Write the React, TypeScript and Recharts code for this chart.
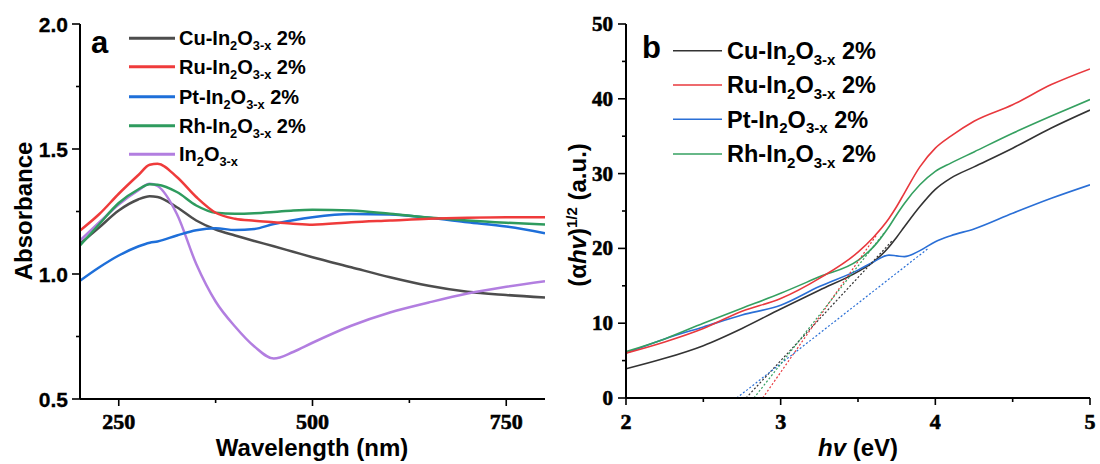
import React from 'react';
import { LineChart, Line, XAxis, YAxis } from 'recharts';

// ---------- Panel a: UV-vis absorbance ----------
const WAVELENGTH = [200, 225, 250, 275, 290, 300, 325, 350, 375, 400, 425, 450, 475, 500, 550, 600, 650, 700, 750, 800];
const CU_ABS = [1.12, 1.187, 1.254, 1.298, 1.311, 1.308, 1.267, 1.214, 1.178, 1.154, 1.132, 1.111, 1.089, 1.067, 1.027, 0.987, 0.953, 0.929, 0.916, 0.906];
const RU_ABS = [1.174, 1.24, 1.321, 1.395, 1.437, 1.441, 1.388, 1.308, 1.245, 1.221, 1.213, 1.207, 1.201, 1.197, 1.207, 1.214, 1.221, 1.225, 1.227, 1.227];
const PT_ABS = [0.973, 1.027, 1.074, 1.11, 1.125, 1.13, 1.154, 1.175, 1.183, 1.176, 1.18, 1.2, 1.215, 1.227, 1.24, 1.238, 1.225, 1.207, 1.19, 1.163];
const RH_ABS = [1.114, 1.2, 1.284, 1.338, 1.359, 1.357, 1.328, 1.274, 1.245, 1.241, 1.243, 1.248, 1.254, 1.257, 1.254, 1.241, 1.226, 1.214, 1.205, 1.198];
const IN_ABS = [1.134, 1.207, 1.278, 1.334, 1.361, 1.352, 1.24, 1.04, 0.89, 0.79, 0.71, 0.662, 0.688, 0.725, 0.793, 0.846, 0.886, 0.922, 0.949, 0.971];

const A_X_TICKS = [250, 375, 500, 625, 750];
const A_X_MAJOR = [250, 500, 750];
const A_Y_TICKS = [0.5, 0.75, 1.0, 1.25, 1.5, 1.75, 2.0];
const A_Y_MAJOR = [0.5, 1.0, 1.5, 2.0];

// ---------- Panel b: Tauc plot ----------
const ENERGY = [2.0, 2.25, 2.5, 2.75, 3.0, 3.25, 3.5, 3.6, 3.7, 3.75, 3.8, 3.9, 4.0, 4.1, 4.25, 4.5, 4.75, 5.0];
const CU_TAUC = [3.9, 5.3, 7.0, 9.3, 11.9, 14.4, 16.9, 18.2, 20.2, 21.5, 22.9, 25.6, 27.9, 29.4, 30.9, 33.4, 36.1, 38.5];
const RU_TAUC = [6.0, 7.5, 9.3, 11.6, 13.3, 16.0, 19.5, 21.5, 24.0, 25.6, 27.4, 30.9, 33.4, 35.0, 37.0, 39.2, 41.9, 44.0];
const PT_TAUC = [6.0, 7.9, 9.5, 11.1, 12.4, 14.9, 17.1, 18.2, 19.1, 19.0, 18.9, 19.7, 20.9, 21.7, 22.6, 24.7, 26.7, 28.5];
const RH_TAUC = [6.2, 7.9, 10.0, 12.0, 14.0, 16.2, 18.4, 20.2, 22.9, 24.5, 26.0, 28.5, 30.3, 31.4, 32.9, 35.4, 37.7, 39.9];

// tangent (band-gap extrapolation) lines: [start, end]
const CU_FIT_E = [2.776, 3.72];
const CU_FIT_V = [0, 21.0];
const RU_FIT_E = [2.884, 3.62];
const RU_FIT_V = [0, 21.8];
const PT_FIT_E = [2.716, 3.954];
const PT_FIT_V = [0, 20.0];
const RH_FIT_E = [2.827, 3.674];
const RH_FIT_V = [0, 22.2];

const B_X_TICKS = [2, 2.5, 3, 3.5, 4, 4.5, 5];
const B_X_MAJOR = [2, 3, 4, 5];
const B_Y_TICKS = [0, 5, 10, 15, 20, 25, 30, 35, 40, 45, 50];
const B_Y_MAJOR = [0, 10, 20, 30, 40, 50];

const dataA = WAVELENGTH.map((wl, i) => ({
  wl,
  cu: CU_ABS[i],
  ru: RU_ABS[i],
  pt: PT_ABS[i],
  rh: RH_ABS[i],
  inx: IN_ABS[i],
}));

const dataB = ENERGY.map((ev, i) => ({
  ev,
  cu: CU_TAUC[i],
  ru: RU_TAUC[i],
  pt: PT_TAUC[i],
  rh: RH_TAUC[i],
}));

const fit = (e: number[], v: number[]) => e.map((ev, i) => ({ ev, v: v[i] }));

const SANS = 'Liberation Sans';
const SERIF = 'Liberation Serif';

const COLORS_A = { cu: '#4d4d4d', ru: '#ef3b3b', pt: '#1e6fd9', rh: '#2e9b5e', inx: '#b27ee0' };
const COLORS_B = { cu: '#333333', ru: '#e8383d', pt: '#2a6fd6', rh: '#35a060' };

const makeXTick = (major: number[], font: string, size: number, off: number, heavy: number) => (props: any) => {
  const { x, y, payload, index } = props;
  const isMajor = major.includes(payload.value);
  return (
    <g key={`xt-${index}-${payload.value}`} style={{ fontFamily: font, fontWeight: 700 }}>
      <line x1={x} x2={x} y1={y} y2={y + (isMajor ? 7 : 4)} stroke="#000" strokeWidth={1.6} />
      {isMajor ? (
        <text x={x} y={y + off} textAnchor="middle" fill="#000" stroke="#000" strokeWidth={heavy} fontSize={size}>
          {String(payload.value)}
        </text>
      ) : null}
    </g>
  );
};

const makeYTick = (major: number[], font: string, size: number, gap: number, fmt: (v: number) => string, dy: number, heavy: number) => (props: any) => {
  const { x, y, payload, index } = props;
  const isMajor = major.includes(payload.value);
  return (
    <g key={`yt-${index}-${payload.value}`} style={{ fontFamily: font, fontWeight: 700 }}>
      <line x1={x - (isMajor ? 8 : 4)} x2={x} y1={y} y2={y} stroke="#000" strokeWidth={1.6} />
      {isMajor ? (
        <text x={x - gap} y={y + dy} textAnchor="end" fill="#000" stroke="#000" strokeWidth={heavy} fontSize={size}>
          {fmt(payload.value)}
        </text>
      ) : null}
    </g>
  );
};

const renderAXTick = makeXTick(A_X_MAJOR, SERIF, 22, 30, 0.6);
const renderAYTick = makeYTick(A_Y_MAJOR, SANS, 21, 12, (v) => v.toFixed(1), 8, 0.3);
const renderBXTick = makeXTick(B_X_MAJOR, SERIF, 22, 31, 0.6);
const renderBYTick = makeYTick(B_Y_MAJOR, SERIF, 21, 13, (v) => String(v), 7, 0.6);

const Formula = ({ metal, pct, fs }: { metal?: string; pct: boolean; fs: number }) => {
  const s = fs * 0.64;
  const d = fs * 0.25;
  return (
    <>
      {metal ? `${metal}-In` : 'In'}
      <tspan dy={d} fontSize={s}>2</tspan>
      <tspan dy={-d}>O</tspan>
      <tspan dy={d} fontSize={s}>3-x</tspan>
      {pct ? <tspan dy={-d}>{' 2%'}</tspan> : null}
    </>
  );
};

const LEGEND_A = [
  { metal: 'Cu', pct: true, color: COLORS_A.cu },
  { metal: 'Ru', pct: true, color: COLORS_A.ru },
  { metal: 'Pt', pct: true, color: COLORS_A.pt },
  { metal: 'Rh', pct: true, color: COLORS_A.rh },
  { metal: '', pct: false, color: COLORS_A.inx },
];
const LEGEND_A_Y = [38.3, 66.7, 96.7, 125.7, 154.3];

const LEGEND_B = [
  { metal: 'Cu', color: COLORS_B.cu },
  { metal: 'Ru', color: COLORS_B.ru },
  { metal: 'Pt', color: COLORS_B.pt },
  { metal: 'Rh', color: COLORS_B.rh },
];
const LEGEND_B_Y = [50.7, 85, 119.3, 154];

export default function App() {
  return (
    <div style={{ position: 'absolute', left: 0, top: 0, width: 1100, height: 464, background: '#fff', overflow: 'hidden' }}>
      {/* Panel a */}
      <div style={{ position: 'absolute', left: 0, top: 0 }}>
        <LineChart width={560} height={464} data={dataA} margin={{ top: 24, right: 15, bottom: 25, left: 0 }}>
          <XAxis
            dataKey="wl"
            type="number"
            domain={[200, 800]}
            ticks={A_X_TICKS}
            interval={0}
            height={40}
            tickSize={0}
            tickMargin={0}
            tickLine={false}
            tick={renderAXTick}
            axisLine={{ stroke: '#000', strokeWidth: 2 }}
            allowDataOverflow
          />
          <XAxis xAxisId="top" orientation="top" type="number" domain={[200, 800]} height={0} tick={false} tickLine={false} axisLine={{ stroke: '#000', strokeWidth: 2 }} />
          <YAxis
            type="number"
            domain={[0.5, 2]}
            ticks={A_Y_TICKS}
            interval={0}
            width={80}
            tickSize={0}
            tickMargin={0}
            tickLine={false}
            tick={renderAYTick}
            axisLine={{ stroke: '#000', strokeWidth: 2 }}
            allowDataOverflow
          />
          <YAxis yAxisId="right" orientation="right" type="number" domain={[0.5, 2]} width={0} tick={false} tickLine={false} axisLine={{ stroke: '#000', strokeWidth: 2 }} />
          <Line type="monotone" dataKey="cu" stroke={COLORS_A.cu} strokeWidth={2.5} dot={false} isAnimationActive={false} />
          <Line type="monotone" dataKey="inx" stroke={COLORS_A.inx} strokeWidth={2.5} dot={false} isAnimationActive={false} />
          <Line type="monotone" dataKey="pt" stroke={COLORS_A.pt} strokeWidth={2.5} dot={false} isAnimationActive={false} />
          <Line type="monotone" dataKey="rh" stroke={COLORS_A.rh} strokeWidth={2.5} dot={false} isAnimationActive={false} />
          <Line type="monotone" dataKey="ru" stroke={COLORS_A.ru} strokeWidth={2.5} dot={false} isAnimationActive={false} />
        </LineChart>
      </div>

      {/* Panel b */}
      <div style={{ position: 'absolute', left: 560, top: 0 }}>
        <LineChart width={540} height={464} data={dataB} margin={{ top: 24, right: 10, bottom: 26, left: 0 }}>
          <XAxis
            dataKey="ev"
            type="number"
            domain={[2, 5]}
            ticks={B_X_TICKS}
            interval={0}
            height={40}
            tickSize={0}
            tickMargin={0}
            tickLine={false}
            tick={renderBXTick}
            axisLine={{ stroke: '#000', strokeWidth: 2 }}
            allowDataOverflow
          />
          <XAxis xAxisId="top" orientation="top" type="number" domain={[2, 5]} height={0} tick={false} tickLine={false} axisLine={{ stroke: '#000', strokeWidth: 2 }} />
          <YAxis
            type="number"
            domain={[0, 50]}
            ticks={B_Y_TICKS}
            interval={0}
            width={66}
            tickSize={0}
            tickMargin={0}
            tickLine={false}
            tick={renderBYTick}
            axisLine={{ stroke: '#000', strokeWidth: 2 }}
            allowDataOverflow
          />
          <YAxis yAxisId="right" orientation="right" type="number" domain={[0, 50]} width={0} tick={false} tickLine={false} axisLine={{ stroke: '#000', strokeWidth: 2 }} />
          <Line type="monotone" dataKey="cu" stroke={COLORS_B.cu} strokeWidth={1.6} dot={false} isAnimationActive={false} />
          <Line type="monotone" dataKey="pt" stroke={COLORS_B.pt} strokeWidth={1.6} dot={false} isAnimationActive={false} />
          <Line type="monotone" dataKey="rh" stroke={COLORS_B.rh} strokeWidth={1.6} dot={false} isAnimationActive={false} />
          <Line type="monotone" dataKey="ru" stroke={COLORS_B.ru} strokeWidth={1.6} dot={false} isAnimationActive={false} />
          <Line data={fit(CU_FIT_E, CU_FIT_V)} dataKey="v" type="linear" stroke={COLORS_B.cu} strokeWidth={1.2} strokeDasharray="2 2" dot={false} isAnimationActive={false} />
          <Line data={fit(RU_FIT_E, RU_FIT_V)} dataKey="v" type="linear" stroke={COLORS_B.ru} strokeWidth={1.2} strokeDasharray="2 2" dot={false} isAnimationActive={false} />
          <Line data={fit(PT_FIT_E, PT_FIT_V)} dataKey="v" type="linear" stroke={COLORS_B.pt} strokeWidth={1.2} strokeDasharray="2 2" dot={false} isAnimationActive={false} />
          <Line data={fit(RH_FIT_E, RH_FIT_V)} dataKey="v" type="linear" stroke={COLORS_B.rh} strokeWidth={1.2} strokeDasharray="2 2" dot={false} isAnimationActive={false} />
        </LineChart>
      </div>

      {/* Text overlay: legends, panel letters, axis titles */}
      <svg width={1100} height={464} style={{ position: 'absolute', left: 0, top: 0, pointerEvents: 'none' }}>
        <g style={{ fontFamily: SANS, fontWeight: 700 }} fill="#000">
          <text x={91} y={53} fontSize={31}>a</text>
          <text x={642} y={58} fontSize={31}>b</text>

          {LEGEND_A.map((item, i) => (
            <g key={`la${i}`}>
              <line x1={129} x2={175} y1={LEGEND_A_Y[i]} y2={LEGEND_A_Y[i]} stroke={item.color} strokeWidth={3} />
              <text x={179} y={LEGEND_A_Y[i] + 7} fontSize={20}>
                <Formula metal={item.metal} pct={item.pct} fs={20} />
              </text>
            </g>
          ))}

          {LEGEND_B.map((item, i) => (
            <g key={`lb${i}`}>
              <line x1={673} x2={722} y1={LEGEND_B_Y[i]} y2={LEGEND_B_Y[i]} stroke={item.color} strokeWidth={1.6} />
              <text x={727} y={LEGEND_B_Y[i] + 8.3} fontSize={23.5}>
                <Formula metal={item.metal} pct={true} fs={23.5} />
              </text>
            </g>
          ))}

          <text transform="translate(32,211) rotate(-90)" textAnchor="middle" fontSize={24}>Absorbance</text>
          <text x={312} y={456} textAnchor="middle" fontSize={24}>Wavelength (nm)</text>

          <text transform="translate(586,215) rotate(-90)" textAnchor="middle" fontSize={24}>
            (α<tspan fontStyle="italic">hv</tspan>)<tspan dy={-9} fontSize={15}>1/2</tspan><tspan dy={9}>{' (a.u.)'}</tspan>
          </text>
          <text x={858} y={456} textAnchor="middle" fontSize={24}>
            <tspan fontStyle="italic">hv</tspan>{' (eV)'}
          </text>
        </g>
      </svg>
    </div>
  );
}
